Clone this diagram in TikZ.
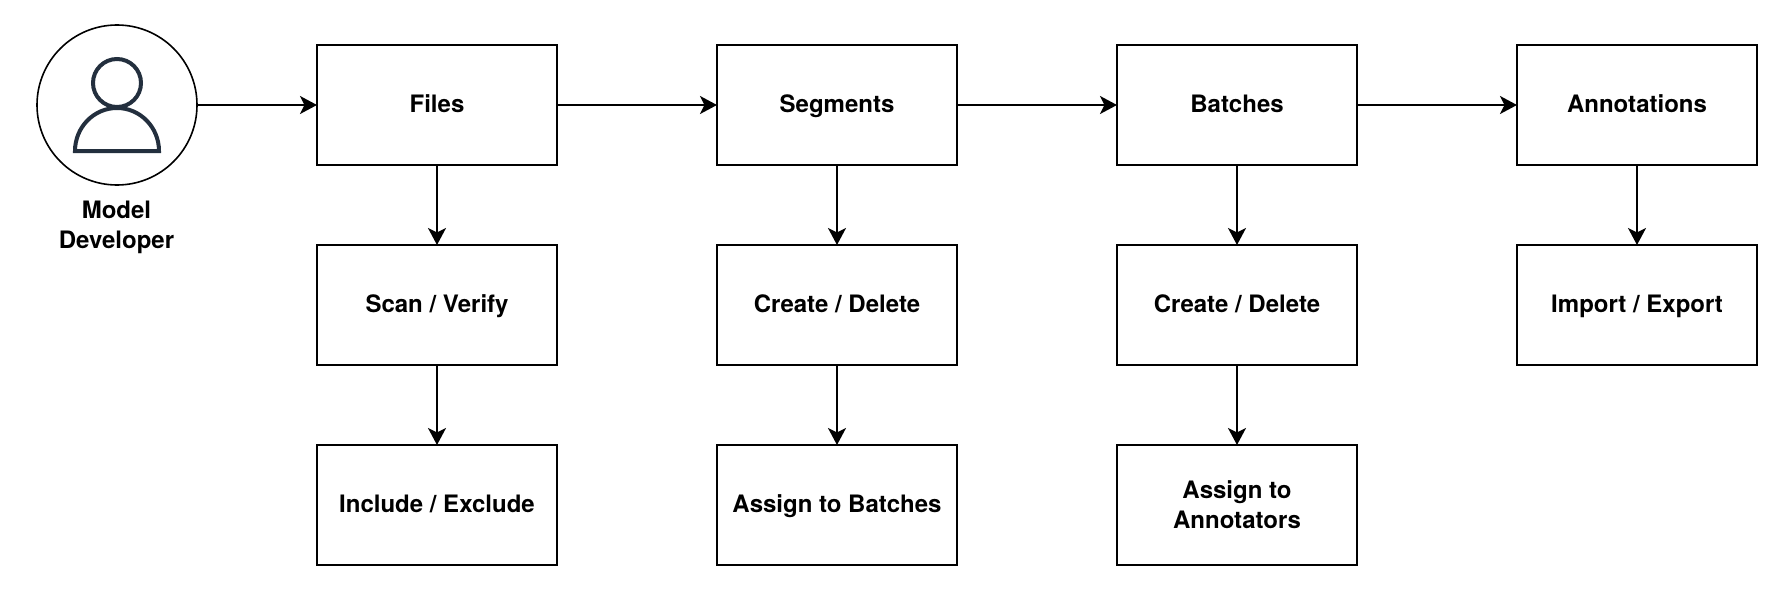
\documentclass[tikz,border=0pt]{standalone}
\usepackage{fontspec}
\setmainfont{TeX Gyre Heros}
\usetikzlibrary{arrows.meta}
\usetikzlibrary{positioning}
\definecolor{IconDark}{HTML}{232F3E}
\tikzset{
    flowbox/.style={draw, line width=2pt, minimum width=240pt, minimum height=120pt,
        outer sep=0pt, align=center, font=\fontsize{24}{30}\selectfont\bfseries},
    singlebox/.style={flowbox, text height=19pt, text depth=5pt},
    flowline/.style={line width=2pt, -{Stealth[length=17pt, width=18pt, inset=4.5pt]}}
}

\begin{document}
\begin{tikzpicture}[x=1pt, y=-1pt]
    \useasboundingbox (0,0) rectangle (1788,594);
    % Developer
    \node[draw, circle, line width=1.6pt, minimum size=160pt, outer sep=0pt] (developer) at (117,105) {};
    \node[align=center, inner sep=0pt, font=\fontsize{24}{30}\selectfont\bfseries] (developerlabel) at (116.5,227) {Model\\Developer};
    % Icon
    \draw[line width=4pt, IconDark] (117,83) ellipse [x radius=24, y radius=24];
    \draw[line width=4pt, IconDark, line join=miter] (75,151) arc [start angle=180, end angle=0, x radius=42, y radius=-43] -- cycle;
    % Top row
    \node[singlebox] (files) at (437,105) {Files};
    \node[singlebox] (segments) at (837,105) {Segments};
    \node[singlebox] (batches) at (1237,105) {Batches};
    \node[singlebox] (annotations) at (1637,105) {Annotations};
    % Middle row
    \node[singlebox] (scan) at (437,305) {Scan / Verify};
    \node[singlebox] (createsegments) at (837,305) {Create / Delete};
    \node[singlebox] (createbatches) at (1237,305) {Create / Delete};
    \node[singlebox] (import) at (1637,305) {Import / Export};
    % Bottom row
    \node[singlebox] (include) at (437,505) {Include / Exclude};
    \node[singlebox] (assignbatches) at (837,505) {Assign to Batches};
    \node[flowbox] (assignannotators) at (1237,505) {Assign to\\Annotators};
    % Arrows
    \draw[flowline] (developer) -- (files);
    \draw[flowline] (files) -- (segments);
    \draw[flowline] (segments) -- (batches);
    \draw[flowline] (batches) -- (annotations);
    \draw[flowline] (files) -- (scan);
    \draw[flowline] (scan) -- (include);
    \draw[flowline] (segments) -- (createsegments);
    \draw[flowline] (createsegments) -- (assignbatches);
    \draw[flowline] (batches) -- (createbatches);
    \draw[flowline] (createbatches) -- (assignannotators);
    \draw[flowline] (annotations) -- (import);
\end{tikzpicture}
\end{document}
